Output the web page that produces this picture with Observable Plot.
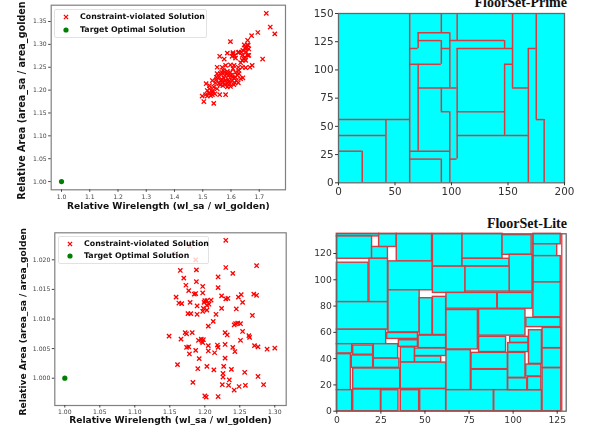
<!DOCTYPE html>
<html>
<head>
<meta charset="utf-8">
<script src="https://cdn.jsdelivr.net/npm/d3@7"></script>
<script src="https://cdn.jsdelivr.net/npm/@observablehq/plot@0.6"></script>
<style>
html,body{margin:0;padding:0;background:#fff;overflow:hidden}
#page{position:relative;width:589px;height:433px;overflow:hidden;background:#fff}
.panel{position:absolute;filter:blur(0.3px)}
.panel svg{overflow:visible;background:transparent;display:block;max-width:none}
.legend{position:absolute;background:rgba(255,255,255,.8);border:1px solid #e2e2e2;border-radius:2px;box-sizing:border-box;font:bold 7.85px "DejaVu Sans";color:#111;filter:blur(0.25px)}
.legend div{position:absolute;white-space:nowrap;line-height:10px}
.legend svg{position:absolute}
.title{position:absolute;font:bold 14px "Liberation Serif";color:#111;text-align:right;right:22px;white-space:nowrap}
</style>
</head>
<body>
<div id="page"></div>
<script>
const xLabel = "Relative Wirelength (wl_sa / wl_golden)";
const yLabel = "Relative Area (area_sa / area_golden";
const legendLabels = ["Constraint-violated Solution", "Target Optimal Solution"];
const titles = ["FloorSet-Prime", "FloorSet-Lite"];
const target = {wl: 1, area: 1};

// FloorSet-Prime scatter
const primeWl = [1.725,1.739,1.755,1.695,1.673,1.659,1.661,1.598,1.712,1.649,1.637,1.655,1.642,1.663,1.628,1.607,1.604,1.613,1.587,1.560,1.576,1.659,1.646,1.640,1.652,1.663,1.634,1.616,1.675,1.667,1.652,1.640,1.626,1.611,1.598,1.581,1.569,1.551,1.573,1.587,1.598,1.616,1.628,1.642,1.616,1.604,1.590,1.578,1.563,1.557,1.569,1.581,1.593,1.604,1.619,1.626,1.610,1.598,1.587,1.571,1.557,1.545,1.534,1.512,1.524,1.539,1.551,1.560,1.581,1.543,1.534,1.522,1.510,1.498,1.504,1.539,1.528,1.536,1.516,1.575,1.563,1.548,1.587,1.595,1.614,1.622,1.634,1.551,1.567,1.607,1.587,1.575,1.628,1.640,1.649,1.607,1.626,1.654,1.571,1.578,1.590,1.524,1.534,1.516,1.548,1.562,1.602,1.611,1.658,1.647];
const primeArea = [1.368,1.338,1.323,1.326,1.319,1.309,1.298,1.306,1.268,1.292,1.283,1.292,1.287,1.290,1.283,1.279,1.274,1.276,1.281,1.274,1.268,1.276,1.268,1.265,1.265,1.276,1.260,1.270,1.254,1.250,1.249,1.250,1.250,1.254,1.255,1.254,1.250,1.250,1.243,1.241,1.239,1.239,1.236,1.227,1.228,1.228,1.231,1.232,1.236,1.228,1.223,1.221,1.219,1.221,1.221,1.216,1.212,1.208,1.207,1.210,1.214,1.216,1.221,1.214,1.210,1.207,1.203,1.190,1.190,1.192,1.196,1.194,1.190,1.187,1.175,1.171,1.188,1.199,1.199,1.226,1.221,1.228,1.214,1.214,1.216,1.233,1.225,1.236,1.239,1.247,1.236,1.239,1.243,1.276,1.272,1.282,1.282,1.283,1.217,1.212,1.223,1.203,1.190,1.187,1.223,1.212,1.233,1.226,1.299,1.299];

// FloorSet-Lite scatter
const liteWl = [1.230,1.159,1.179,1.187,1.274,1.230,1.240,1.165,1.188,1.170,1.219,1.188,1.173,1.177,1.197,1.219,1.159,1.163,1.167,1.179,1.185,1.187,1.197,1.200,1.203,1.209,1.224,1.230,1.233,1.252,1.248,1.254,1.270,1.274,1.189,1.199,1.203,1.206,1.198,1.203,1.197,1.176,1.180,1.189,1.216,1.224,1.245,1.268,1.212,1.205,1.244,1.247,1.251,1.242,1.254,1.149,1.172,1.174,1.182,1.166,1.174,1.177,1.178,1.187,1.191,1.195,1.196,1.197,1.198,1.205,1.205,1.214,1.218,1.219,1.229,1.232,1.229,1.240,1.243,1.251,1.263,1.264,1.271,1.276,1.289,1.300,1.161,1.192,1.229,1.190,1.203,1.213,1.227,1.238,1.257,1.226,1.226,1.183,1.225,1.235,1.234,1.249,1.258,1.284,1.276,1.242,1.200,1.202,1.219];
const liteArea = [1.0233,1.0211,1.0223,1.0200,1.0190,1.0187,1.0177,1.0182,1.0183,1.0169,1.0171,1.0163,1.0157,1.0148,1.0155,1.0153,1.0137,1.0127,1.0126,1.0128,1.0142,1.0143,1.0144,1.0131,1.0131,1.0132,1.0139,1.0134,1.0135,1.0141,1.0137,1.0128,1.0142,1.0140,1.0122,1.0128,1.0123,1.0125,1.0118,1.0115,1.0113,1.0109,1.0109,1.0108,1.0108,1.0118,1.0117,1.0106,1.0096,1.0088,1.0092,1.0093,1.0092,1.0090,1.0079,1.0071,1.0077,1.0075,1.0077,1.0066,1.0052,1.0053,1.0041,1.0047,1.0064,1.0066,1.0062,1.0060,1.0065,1.0055,1.0046,1.0043,1.0056,1.0052,1.0077,1.0073,1.0057,1.0052,1.0045,1.0064,1.0072,1.0069,1.0055,1.0053,1.0049,1.0051,1.0023,1.0033,1.0034,1.0016,1.0020,1.0014,1.0020,1.0015,1.0010,1.0008,1.0002,0.9993,0.9989,0.9997,0.9988,0.9986,0.9988,0.9989,1.0003,0.9980,0.9970,0.9968,0.9969];

// FloorSet-Prime outline: vertical edges [x, y1, y2] and horizontal edges [y, x1, x2]
const primeVertical = [[21,0,28],[42,0,56],[63,0,150],[70.5,28,105],[70.5,119,133],[91,0,21],[91,63,84],[91,105,126],[91,133,150],[98.5,0,63],[98.5,84,133],[105,21,119],[105,126,150],[147,42,105],[147,119,126],[154,84,150],[168,0,119],[175,56,150],[182,0,56]];
const primeHorizontal = [[21,63,91],[21,98.5,105],[28,0,21],[28,63,98.5],[42,0,42],[42,105,168],[56,0,63],[56,175,182],[63,91,98.5],[63,105,147],[84,70.5,105],[84,154,168],[105,63,91],[105,147,154],[119,63,70.5],[119,91,98.5],[119,105,154],[119,168,175],[126,70.5,91],[126,98.5,147],[133,70.5,98.5]];
const primeChip = [[0,200,0,150]];

// FloorSet-Lite blocks [x1, x2, y1, y2]
const liteBlocks = [
[0,24,133,135],[0,20,116,133],[20,29,116,125],[24,34,125,135],[34,54,114,135],[54.5,71.3,110,135],[71.3,94,116,135],[71.3,98,110,116],[94,110.5,119,134],[98,111,91,119],[111.5,127,127,135],[111.5,125,118,127],[111.5,127,98,118],[111.5,127,71.5,98],[54.5,73,90,110],[73,98,91,110],
[0,18,83,113],[18.5,29,83,116],[29.3,54.3,92,114],[0,29,62,83],[29.3,47,60,92],[47,54.3,58,86],[54.5,62,58,87],[62.2,91,78,90],[91.3,111,78,90],[62.2,80,47,77],[80.7,107,57.5,77.5],[107.5,127,64,71],[0,28,51,62],[28.6,46,55,59.5],
[0,8.7,44,51],[9.3,20.6,43,50],[21,34.8,40,51],[35.2,46,49,54],[46.4,62,48,57.5],[36.3,44.3,37,48.5],[44.4,62,42,47.7],[44.4,59.2,37,41.6],[0,8,16,43.4],[8.5,20.6,33,42.4],[21,35.5,33,40],[9.3,36,17,32.5],[36.3,62,17,37],
[0,8.7,0,16],[9.3,25,0,16.5],[25.3,35,0,16],[36.3,46.7,0,16],[47.3,62,0,16.8],[62.2,76,16,46.5],[76.4,97,32,44.4],[76.4,97,16,31.5],[62.2,89,0,16],[89.3,116.3,0,16],[80.7,96,45,56.6],[98.3,108.7,52,56.6],[97.2,108.7,45,51.8],[97.2,107,25.4,44.4],[97.2,108,16,25],[109,116.3,36,61.6],[107.4,116,26.4,35.5],[108.4,116,16,26],[116.7,127.3,48,63.4],[116.7,127.3,33,47.7],[116.7,127.3,0,32.7]];
const liteExtraLines = [[127.6,0,135],[111.2,91,135],[36,0,17]];

const primeXTicks = [1.0,1.1,1.2,1.3,1.4,1.5,1.6,1.7];
const primeYTicks = [1.00,1.05,1.10,1.15,1.20,1.25,1.30,1.35];
const liteXTicks = [1.00,1.05,1.10,1.15,1.20,1.25,1.30];
const liteYTicks = [1.000,1.005,1.010,1.015,1.020];

const page = document.getElementById("page");
const place = (node, left, top) => {
  const w = document.createElement("div");
  w.className = "panel";
  w.style.left = left + "px";
  w.style.top = top + "px";
  w.appendChild(node);
  page.appendChild(w);
};

function scatter(o) {
  const common = {fontFamily: "DejaVu Sans"};
  return Plot.plot({
    width: o.width, height: o.height,
    marginLeft: o.ml, marginRight: o.mr, marginTop: o.mt, marginBottom: o.mb,
    style: {background: "transparent", fontFamily: "DejaVu Sans"},
    x: {domain: o.xd}, y: {domain: o.yd},
    marks: [
      Plot.dot(o.wl, {x: d => d, y: (d, i) => o.area[i], symbol: "times", r: 2.1, stroke: "#ff0000", strokeWidth: 1.3}),
      Plot.dot([target], {x: "wl", y: "area", r: 2.6, fill: "#008000"}),
      Plot.frame({stroke: "#808080", strokeWidth: 1.2}),
      Plot.axisX({ticks: o.xt, tickFormat: d3.format(o.xf), tickSize: 2.5, tickPadding: 2, fontSize: 6.1, color: "#444", label: null, ...common}),
      Plot.axisY({ticks: o.yt, tickFormat: d3.format(o.yf), tickSize: 2.5, tickPadding: 2, fontSize: 6.1, color: "#444", label: null, ...common}),
      Plot.text([xLabel], {frameAnchor: "bottom", dy: o.xdy, dx: o.xdx, fontSize: 9.15, fontWeight: "bold", fill: "#111", ...common}),
      Plot.text([yLabel], {frameAnchor: "left", textAnchor: "middle", rotate: -90, dx: o.ydx, dy: o.ydy, fontSize: o.yfs, fontWeight: "bold", fill: "#111", ...common})
    ]
  });
}

place(scatter({
  width: 295, height: 215, ml: 50.7, mr: 10, mt: 4.7, mb: 25.7,
  xd: [0.9635, 1.793], yd: [0.982, 1.3857],
  wl: primeWl, area: primeArea, xt: primeXTicks, yt: primeYTicks, xf: ".1f", yf: ".2f",
  xdy: 19, xdx: 0, ydx: -29, ydy: 3, yfs: 9.65
}), 0, 0);

place(scatter({
  width: 295, height: 218, ml: 54.3, mr: 9.3, mt: 17.3, mb: 28,
  xd: [0.9857, 1.3163], yd: [0.99539, 1.02456],
  wl: liteWl, area: liteArea, xt: liteXTicks, yt: liteYTicks, xf: ".2f", yf: ".3f",
  xdy: 17, xdx: 0, ydx: -32, ydy: 2.5, yfs: 9.1
}), 0, 215);

const redEdge = "#d43c42";
const grey = "#5f6a6a";
place(Plot.plot({
  width: 294, height: 215, marginLeft: 43, marginRight: 25, marginTop: 13, marginBottom: 32.7,
  style: {background: "transparent", fontFamily: "DejaVu Sans"},
  x: {domain: [0, 200]}, y: {domain: [0, 150]},
  marks: [
    Plot.rect(primeChip, {x1: d => d[0], x2: d => d[1], y1: d => d[2], y2: d => d[3], fill: "#00ffff"}),
    Plot.ruleX(primeVertical, {x: d => d[0], y1: d => d[1], y2: d => d[2], stroke: redEdge, strokeWidth: 1.5}),
    Plot.ruleY(primeHorizontal, {y: d => d[0], x1: d => d[1], x2: d => d[2], stroke: redEdge, strokeWidth: 1.5}),
    Plot.frame({stroke: grey, strokeWidth: 1.3}),
    Plot.axisX({ticks: [0,50,100,150,200], tickSize: 3, tickPadding: 2, fontSize: 10.4, color: "#333", label: null}),
    Plot.axisY({ticks: [0,25,50,75,100,125,150], tickSize: 3, tickPadding: 2, fontSize: 10.4, color: "#333", label: null})
  ]
}), 295, 0);

place(Plot.plot({
  width: 294, height: 218, marginLeft: 41.3, marginRight: 23.3, marginTop: 18.3, marginBottom: 22.3,
  style: {background: "transparent", fontFamily: "DejaVu Sans"},
  x: {domain: [0, 130.1]}, y: {domain: [0, 135]},
  marks: [
    Plot.rect(liteBlocks, {x1: d => d[0], x2: d => d[1], y1: d => d[2], y2: d => d[3], fill: "#00ffff", stroke: redEdge, strokeWidth: 1.4, inset: 0}),
    Plot.ruleX(liteExtraLines, {x: d => d[0], y1: d => d[1], y2: d => d[2], stroke: redEdge, strokeWidth: 1.3}),
    Plot.frame({stroke: grey, strokeWidth: 1.3}),
    Plot.axisX({ticks: [0,25,50,75,100,125], tickSize: 3, tickPadding: 2, fontSize: 9.2, color: "#333", label: null}),
    Plot.axisY({ticks: [0,20,40,60,80,100,120], tickSize: 3, tickPadding: 2, fontSize: 9.2, color: "#333", label: null})
  ]
}), 295, 215);

function legend(left, top, w, h, textLeft, rowY, mx) {
  const d = document.createElement("div");
  d.className = "legend";
  d.style.cssText = `left:${left}px;top:${top}px;width:${w}px;height:${h}px`;
  d.innerHTML =
    `<svg style="left:${mx - 4}px;top:${rowY[0] - 4}px" width="8" height="8"><path d="M1.9 1.9L6.1 6.1M6.1 1.9L1.9 6.1" stroke="#f00" stroke-width="1.3"/></svg>` +
    `<svg style="left:${mx - 4}px;top:${rowY[1] - 4}px" width="8" height="8"><circle cx="4" cy="4" r="2.6" fill="#008000"/></svg>` +
    legendLabels.map((t, i) => `<div style="left:${textLeft}px;top:${rowY[i] - 5}px">${t}</div>`).join("");
  page.appendChild(d);
}
legend(54, 8.5, 153, 29, 25, [7.5, 20.5], 10.5);
legend(57.5, 235.5, 151, 28, 25.5, [7, 19.5], 11);

titles.forEach((t, i) => {
  const d = document.createElement("div");
  d.className = "title";
  d.textContent = t;
  d.style.top = (i === 0 ? -5 : 216) + "px";
  page.appendChild(d);
});
</script>
</body>
</html>
